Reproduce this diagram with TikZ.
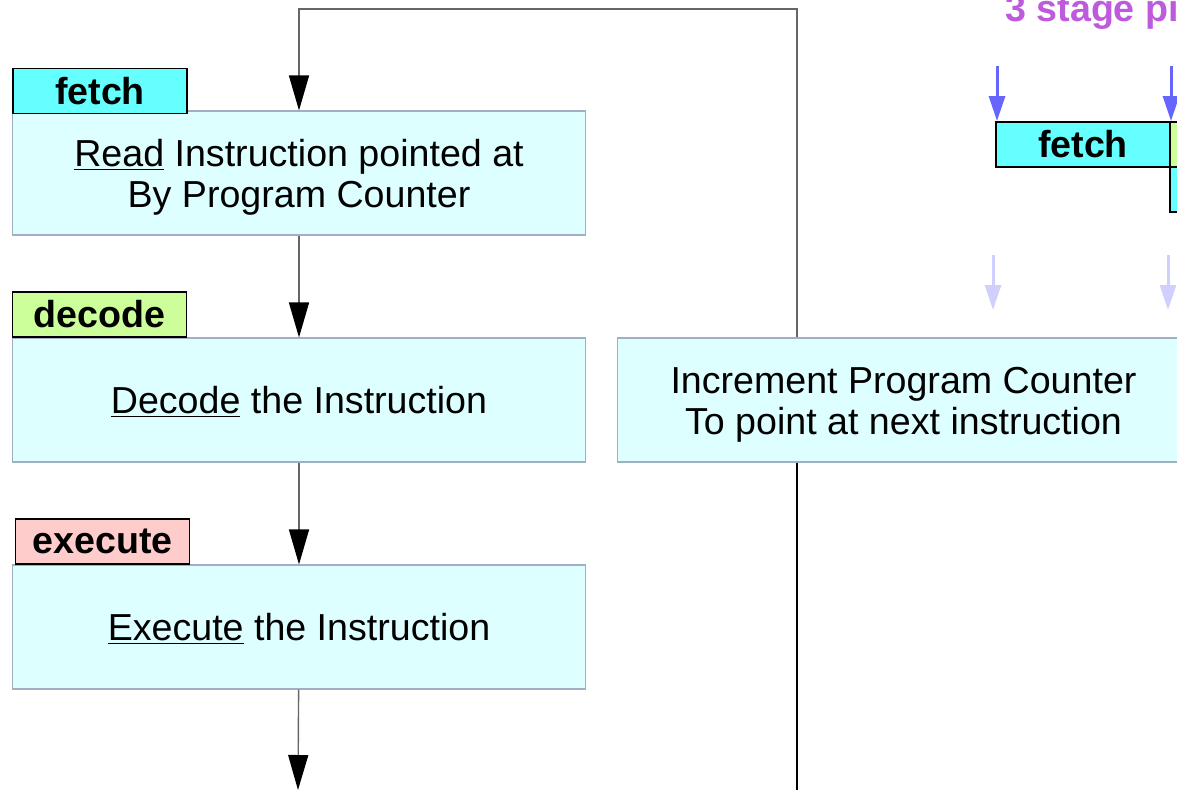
\documentclass[tikz,border=0pt]{standalone}
\usepackage{fontspec}
\setmainfont{Liberation Sans}
\usetikzlibrary{arrows.meta}
\definecolor{boxfill}{RGB}{221,255,255}
\definecolor{boxline}{RGB}{160,176,192}
\definecolor{fetchcol}{RGB}{102,255,255}
\definecolor{decodecol}{RGB}{204,255,153}
\definecolor{execcol}{RGB}{255,204,204}
\definecolor{titlecol}{RGB}{190,90,220}
\definecolor{clockcol}{RGB}{102,102,255}
\definecolor{fadecol}{RGB}{208,208,255}
\newcommand{\steptext}[1]{\raisebox{-8.4pt}[0pt][0pt]{\begin{tabular}{@{}c@{}}#1\end{tabular}}}
\tikzset{
  stepbox/.style={draw=boxline, fill=boxfill, line width=0.6pt, minimum width=11.48cm, minimum height=2.48cm,
    inner sep=0pt, align=center, font=\fontsize{21.4}{23.2}\selectfont},
  stagetag/.style={draw=black, line width=1.1pt, minimum width=3.48cm, minimum height=0.9cm,
    inner sep=0pt, font=\fontsize{21.4}{24}\selectfont\bfseries},
  flow/.style={draw=black!60, line width=0.8pt, -{Triangle[length=0.7cm,width=0.4cm,color=black]}},
  clock/.style={draw=clockcol, line width=1.7pt, -{Triangle[length=0.5cm,width=0.32cm]}},
}
\begin{document}
\begin{tikzpicture}[x=0.02cm, y=-0.02cm]
			%%%%% START %%%%%
			\useasboundingbox (0, 0) rectangle (1177, 790);
			\clip (0, 0) rectangle (1177, 790);
			
			% the instruction cycle
			\node[stepbox] (read) at (299, 173) {\steptext{\underline{Read} Instruction pointed at\\ By Program Counter}};
			\node[stepbox] (decode) at (299, 400) {\steptext{\underline{Decode} the Instruction}};
			\node[stepbox] (exec) at (299, 627) {\steptext{\underline{Execute} the Instruction}};
			\node[stepbox, minimum width=11.46cm] (inc) at (903.5, 400) {\steptext{Increment Program Counter\\To point at next instruction}};
			
			\node[stagetag, fill=fetchcol] (fetchtag) at (100, 91) {fetch};
			\node[stagetag, fill=decodecol] (decodetag) at (99.5, 314.5) {decode};
			\node[stagetag, fill=execcol] (exectag) at (102.5, 541.5) {execute};
			
			\coordinate (looptop) at (797, 9);
			\coordinate (loopend) at (797, 790);
			\coordinate (out) at (298, 790);
			
			\draw[flow] (read) -- (decode);
			\draw[flow] (decode) -- (exec);
			\draw[flow] (exec) -- (out);
			\draw[flow] (looptop |- inc.north) -- (looptop) -| (read.north);
			\draw[draw=black, line width=0.8pt] (looptop |- inc.south) -- (loopend);
			
			% 3 stage pipeline
			\node[anchor=base west, inner sep=0pt, text=titlecol, font=\fontsize{21.4}{24}\selectfont\bfseries] (title) at (1005, 22) {3 stage pipeline};
			
			\node[stagetag, fill=fetchcol] (pfetch) at (1083, 144.5) {fetch};
			\node[stagetag, fill=decodecol] (pdecode) at (1257, 144.5) {};
			\node[stagetag, fill=fetchcol] (pfetchtwo) at (1257, 189.5) {};
			
			\coordinate (tickone) at (997, 66);
			\coordinate (ticktwo) at (1171, 66);
			\draw[clock] (tickone) -- (tickone |- pfetch.north);
			\draw[clock] (ticktwo) -- (ticktwo |- pfetch.north);
			
			\draw[clock, draw=fadecol] (993, 255) -- (993, 310);
			\draw[clock, draw=fadecol] (1168, 255) -- (1168, 310);
			
			%%%%% END %%%%%
\end{tikzpicture}
\end{document}
